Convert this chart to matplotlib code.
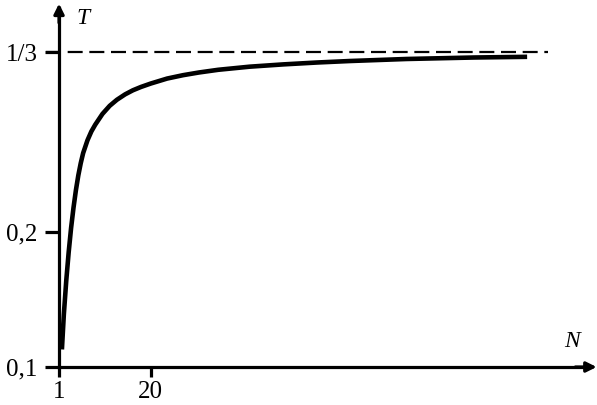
import matplotlib
matplotlib.use("Agg")
import matplotlib.pyplot as plt

# Data
N = [1.6, 2.0, 2.5, 3.0, 3.5, 4.0, 4.5, 5.0, 5.5, 6.0, 6.9, 7.7, 8.5, 10.0,
     11.5, 13.0, 14.7, 16.3, 18.0, 20.0, 23.4, 26.7, 30.0, 34.0, 40.5, 47.5,
     54.5, 61.3, 73.0, 87.0, 98.0]
T = [0.113, 0.139, 0.164, 0.185, 0.203, 0.218, 0.231, 0.242, 0.251, 0.2585,
     0.268, 0.2745, 0.2795, 0.2875, 0.2935, 0.298, 0.302, 0.305, 0.3075,
     0.310, 0.3137, 0.3162, 0.3182, 0.3202, 0.3225, 0.3242, 0.3256, 0.3267,
     0.3282, 0.3293, 0.3298]
limit_T = 1 / 3
xticks = [1, 20]
xtick_labels = ["1", "20"]
yticks = [0.1, 0.2, 1 / 3]
ytick_labels = ["0,1", "0,2", "1/3"]

plt.rcParams["font.family"] = ["Liberation Serif", "DejaVu Serif"]
plt.rcParams["lines.scale_dashes"] = False

fig = plt.figure(figsize=(5.97, 4.05), dpi=100)
ax = fig.add_axes([0, 0, 1, 1])
ax.set_xlim(-11.23, 112.48)
ax.set_ylim(0.07185, 0.3719)
ax.patch.set_visible(False)

lw_axis = 2.3
for s in ["top", "right"]:
    ax.spines[s].set_visible(False)
ax.spines["left"].set_position(("data", 1))
ax.spines["bottom"].set_position(("data", 0.1))
ax.spines["left"].set_bounds(0.1, 0.366)
ax.spines["bottom"].set_bounds(1, 111)
for s in ["left", "bottom"]:
    ax.spines[s].set_linewidth(lw_axis)

ax.set_xticks(xticks, xtick_labels)
ax.set_yticks(yticks, ytick_labels)
ax.tick_params(axis="x", direction="out", length=7.5, width=lw_axis, pad=2.5, labelsize=18)
ax.tick_params(axis="y", direction="out", length=10, width=lw_axis, pad=5.5, labelsize=18)

# arrows
ax.annotate("", xy=(112.4, 0.1), xytext=(108, 0.1),
            arrowprops=dict(arrowstyle="-|>,head_length=0.6,head_width=0.3",
                            lw=lw_axis, color="k", shrinkA=0, shrinkB=0,
                            mutation_scale=10))
ax.annotate("", xy=(1, 0.3692), xytext=(1, 0.355),
            arrowprops=dict(arrowstyle="-|>,head_length=0.6,head_width=0.3",
                            lw=lw_axis, color="k", shrinkA=0, shrinkB=0,
                            mutation_scale=10))

# asymptote
ax.plot([-1.6, 102.3], [limit_T, limit_T], color="k", lw=1.6,
        dashes=(10.8, 4.8), dash_capstyle="butt")

# curve
ax.plot(N, T, color="k", lw=3.3, solid_capstyle="butt", solid_joinstyle="round")

ax.text(5.97, 0.3585, "T", fontsize=17, style="italic", ha="center", va="center")
ax.text(107.3, 0.119, "N", fontsize=17, style="italic", ha="center", va="center")

fig.savefig("out.png", dpi=100)
